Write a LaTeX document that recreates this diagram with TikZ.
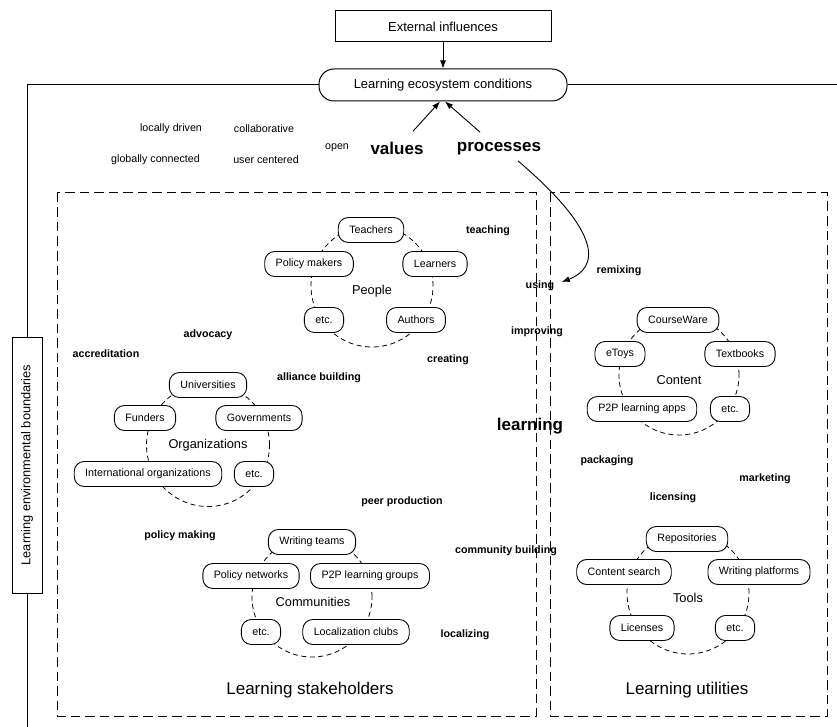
\documentclass[tikz,border=0pt]{standalone}
\usepackage{fontspec}
\setmainfont{Liberation Sans}
\usetikzlibrary{arrows.meta,calc}

\tikzset{
  item/.style={draw, rounded corners=10pt, fill=white, minimum height=25pt,
    inner xsep=11pt, line width=0.9pt, font=\fontsize{10.7}{12}\selectfont},
  grp/.style={font=\fontsize{12.8}{15}\selectfont},
  act/.style={font=\bfseries\fontsize{10.7}{12}\selectfont},
  big/.style={font=\bfseries\fontsize{17}{20}\selectfont},
  note/.style={font=\fontsize{10.7}{12}\selectfont},
  caption/.style={font=\fontsize{17}{20}\selectfont},
  ring/.style={dash pattern=on 5pt off 3.5pt, line width=0.8pt},
  region/.style={dash pattern=on 9.5pt off 5pt, line width=1pt},
  arr/.style={-{Latex[length=8pt,width=6pt]}, line width=0.9pt},
  edge/.style={line width=1pt}
}

\begin{document}
\begin{tikzpicture}[x=1pt, y=-1pt]
\useasboundingbox (0,0) rectangle (837,727);

% top: influences and conditions
\node[draw, edge, minimum width=216pt, minimum height=31pt,
  font=\fontsize{13}{15}\selectfont] (ext) at (443,26.5) {External influences};
\node[draw, edge, rounded corners=15pt, minimum width=248pt, minimum height=32pt,
  fill=white, font=\fontsize{13}{15}\selectfont] (eco) at (443,85) {Learning ecosystem conditions};
\draw[arr] (ext) -- (eco);

% environment boundary lines
\node[draw, edge, rotate=90, minimum width=256pt, minimum height=30pt,
  font=\fontsize{12.8}{15}\selectfont] (bnd) at (27,465) {Learning environmental boundaries};
\coordinate (corner) at (27,85);
\coordinate (rightend) at (837,85);
\coordinate (bottomend) at (27,727);
\draw[edge] (eco.west) -- (corner) -- (bnd.east);
\draw[edge] (bnd.west) -- (bottomend);
\draw[edge] (eco.east) -- (rightend);

% values and processes
\node[note] (locally) at (171,129) {locally driven};
\node[note] (collab) at (264,129) {collaborative};
\node[note] (globally) at (155.5,160) {globally connected};
\node[note] (usercent) at (266,160) {user centered};
\node[note] (open) at (337,148) {open};
\node[big] (values) at (397,148) {values};
\node[big] (processes) at (499,149) {processes};
\draw[arr] ([xshift=16pt,yshift=7pt]values.north) -- ([xshift=-3pt]eco.south);
\draw[arr] ([xshift=-19pt,yshift=7pt]processes.north) -- ([xshift=2pt]eco.south);

% the two regions
\draw[region] (57,193) rectangle (536,716);
\draw[region] (550,193) rectangle (827,716);
\node[caption] (stake) at (310,690) {Learning stakeholders};
\node[caption] (util) at (687,690) {Learning utilities};

% rings behind the clusters
\draw[ring] (372,286) circle[radius=61pt];
\draw[ring] (208,445) circle[radius=61.5pt];
\draw[ring] (312,597) circle[radius=60pt];
\draw[ring] (679,375) circle[radius=60pt];
\draw[ring] (688,593) circle[radius=61pt];

% people
\node[item] (teachers) at (371,230) {Teachers};
\node[item] (policymakers) at (309,264) {Policy makers};
\node[item] (learners) at (435,264) {Learners};
\node[grp] (people) at (372,291) {People};
\node[item] (etcp) at (324,320) {etc.};
\node[item] (authors) at (416,320) {Authors};

% organizations
\node[item] (univ) at (208,385) {Universities};
\node[item] (funders) at (145,418) {Funders};
\node[item] (govs) at (259,418) {Governments};
\node[grp] (orgs) at (208,445) {Organizations};
\node[item] (intl) at (148,474) {International organizations};
\node[item] (etco) at (254,474) {etc.};

% communities
\node[item] (writing) at (312,542) {Writing teams};
\node[item] (polnet) at (251,576) {Policy networks};
\node[item] (p2pgroups) at (370,576) {P2P learning groups};
\node[grp] (comms) at (313,602) {Communities};
\node[item] (etcc) at (261,632) {etc.};
\node[item] (locclubs) at (356,632) {Localization clubs};

% content
\node[item] (courseware) at (678,320) {CourseWare};
\node[item] (etoys) at (620,354) {eToys};
\node[item] (textbooks) at (740,354) {Textbooks};
\node[grp] (content) at (679,380) {Content};
\node[item] (p2papps) at (642,409) {P2P learning apps};
\node[item] (etcn) at (730,409) {etc.};

% tools
\node[item] (repos) at (687,539) {Repositories};
\node[item] (search) at (624,572) {Content search};
\node[item] (platforms) at (759,572) {Writing platforms};
\node[grp] (tools) at (688,598) {Tools};
\node[item] (licenses) at (642,628) {Licenses};
\node[item] (etct) at (735,628) {etc.};

% activities
\node[act] (teaching) at (488,231) {teaching};
\node[act] (using) at (540,286) {using};
\node[act] (improving) at (537,332) {improving};
\node[act] (remixing) at (619,271) {remixing};
\node[act] (creating) at (448,360) {creating};
\node[act] (advocacy) at (208,335) {advocacy};
\node[act] (accred) at (106,354) {accreditation};
\node[act] (alliance) at (319,378) {alliance building};
\node[big] (learning) at (530,426) {learning};
\node[act] (packaging) at (607,461) {packaging};
\node[act] (marketing) at (765,479) {marketing};
\node[act] (licensing) at (673,498) {licensing};
\node[act] (peer) at (402,502) {peer production};
\node[act] (policymaking) at (180,536) {policy making};
\node[act] (commbuild) at (506,551) {community building};
\node[act] (localizing) at (465,635) {localizing};

% processes lead into use
\draw[arr] ([xshift=19pt,yshift=-2pt]processes.south)
  .. controls (605,235) and (598,268) .. ([xshift=4pt,yshift=4pt]using.east);
\end{tikzpicture}
\end{document}
